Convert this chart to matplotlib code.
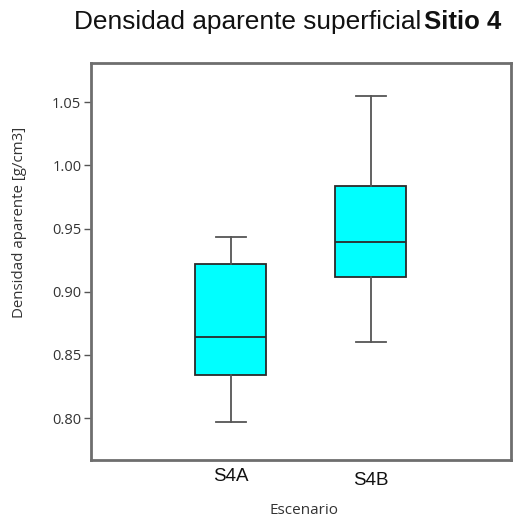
import matplotlib
matplotlib.use("Agg")
import matplotlib.pyplot as plt
from matplotlib.transforms import ScaledTranslation

categories = ["S4A", "S4B"]
whisker_low = [0.797, 0.860]
q1 = [0.834, 0.912]
median = [0.864, 0.939]
q3 = [0.922, 0.984]
whisker_high = [0.943, 1.055]

yticks = [0.80, 0.85, 0.90, 0.95, 1.00, 1.05]

fig = plt.figure(figsize=(5.16, 5.25), dpi=100)
ax = fig.add_axes([0.1764, 0.124, 0.8136, 0.756])

stats = []
for i, c in enumerate(categories):
    stats.append(dict(label=c, whislo=whisker_low[i], q1=q1[i], med=median[i],
                      q3=q3[i], whishi=whisker_high[i], fliers=[]))

bp = ax.bxp(stats, positions=[1, 2], widths=0.507, patch_artist=True,
            showfliers=False,
            boxprops=dict(facecolor="#00FFFF", edgecolor="#2b2b2b", linewidth=1.3),
            medianprops=dict(color="#2b2b2b", linewidth=1.3),
            whiskerprops=dict(color="#555555", linewidth=1.3),
            capprops=dict(color="#555555", linewidth=1.3),
            capwidths=0.21)

ax.set_xlim(0, 3)
ax.set_ylim(0.767, 1.081)
ax.set_yticks(yticks)
ax.set_yticklabels([f"{v:.2f}" for v in yticks], fontfamily="Open Sans", fontsize=10.5, color="#333333")
ax.set_xticks([1, 2])
ax.set_xticklabels(categories, fontfamily="Liberation Sans", fontsize=13.5, color="#111111")
ax.tick_params(axis="x", length=0, pad=6)
ax.tick_params(axis="y", length=5, width=1, color="#555555", pad=2)

# second category label sits slightly lower in the reference
lbl = ax.get_xticklabels()[1]
lbl.set_transform(lbl.get_transform() + ScaledTranslation(0, -4 / 100, fig.dpi_scale_trans))

for s in ax.spines.values():
    s.set_color("#6e6e6e")
    s.set_linewidth(2)

ax.set_ylabel("Densidad aparente [g/cm3]", fontfamily="Open Sans", fontsize=10.8, color="#333333")
ax.yaxis.set_label_coords(-0.152, 0.598)
ax.set_xlabel("Escenario", fontfamily="Open Sans", fontsize=11, color="#333333")
ax.xaxis.set_label_coords(0.507, -0.108)

fig.text(0.816, 0.958, "Densidad aparente superficial", ha="right", va="center",
         fontfamily="Liberation Sans", fontsize=18.9, color="#111111")
fig.text(0.822, 0.958, "Sitio 4", ha="left", va="center",
         fontfamily="Liberation Sans", fontsize=18.5, fontweight="bold", color="#111111")

fig.savefig("out.png", dpi=100)
